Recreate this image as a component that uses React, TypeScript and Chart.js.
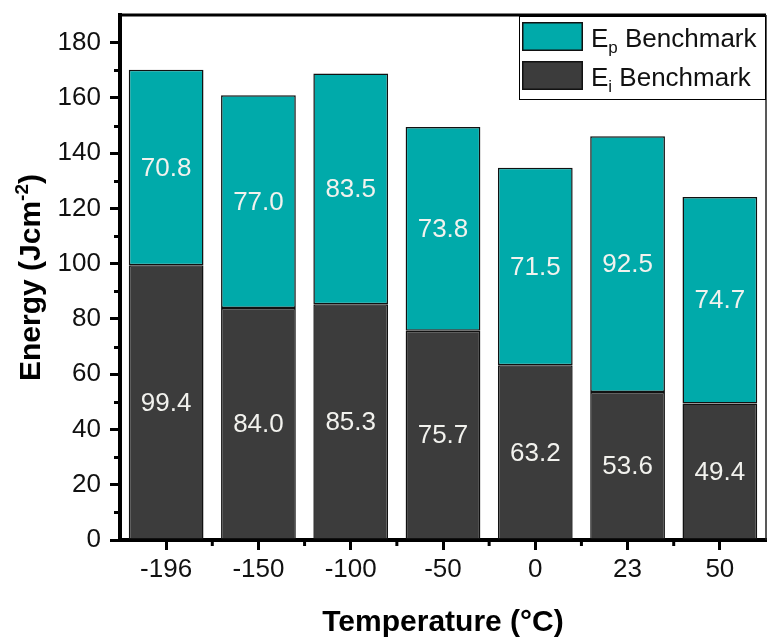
import React, { useEffect, useRef } from 'react';
import { Chart, registerables } from 'chart.js';

Chart.register(...registerables);

// Test temperatures (°C) and the two stacked energy components (J/cm²)
const temperatures = ['-196', '-150', '-100', '-50', '0', '23', '50'];
const eiValues = [99.4, 84.0, 85.3, 75.7, 63.2, 53.6, 49.4];
const epValues = [70.8, 77.0, 83.5, 73.8, 71.5, 92.5, 74.7];

// Y axis ticks: labelled majors and unlabelled minors
const yMajorTicks = [0, 20, 40, 60, 80, 100, 120, 140, 160, 180];
const yMinorTicks = [10, 30, 50, 70, 90, 110, 130, 150, 170];
const yAxisMax = 190;

const TEAL = '#00AAAA';
const DARK = '#3C3C3C';
const FONT = '"Liberation Sans", Arial, Helvetica, sans-serif';

const decorations = {
  id: 'decorations',
  afterDatasetsDraw(chart: any) {
    const ctx = chart.ctx;
    ctx.save();
    ctx.font = `26px ${FONT}`;
    ctx.fillStyle = '#F2F2EE';
    ctx.textAlign = 'center';
    ctx.textBaseline = 'middle';
    chart.data.datasets.forEach((ds: any, di: number) => {
      const meta = chart.getDatasetMeta(di);
      meta.data.forEach((el: any, i: number) => {
        const v = ds.data[i] as number;
        ctx.fillText(v.toFixed(1), el.x, (el.y + el.base) / 2 + 1);
      });
    });
    ctx.restore();
  },
  afterDraw(chart: any) {
    const ctx = chart.ctx;
    const area = chart.chartArea;
    const xs = chart.scales.x;
    const ys = chart.scales.y;
    ctx.save();

    // top and right frame lines
    ctx.strokeStyle = '#000';
    ctx.lineWidth = 3;
    ctx.beginPath();
    ctx.moveTo(area.left - 2, area.top);
    ctx.lineTo(area.right, area.top);
    ctx.stroke();
    ctx.lineWidth = 1.5;
    ctx.strokeStyle = '#222';
    ctx.beginPath();
    ctx.moveTo(area.right, area.top);
    ctx.lineTo(area.right, area.bottom);
    ctx.stroke();

    // minor ticks
    ctx.strokeStyle = '#000';
    ctx.lineWidth = 3;
    yMinorTicks.forEach((v) => {
      const py = Math.round(ys.getPixelForValue(v)) + 0.5;
      ctx.beginPath();
      ctx.moveTo(area.left - 6, py);
      ctx.lineTo(area.left, py);
      ctx.stroke();
    });
    for (let i = 1; i < temperatures.length; i++) {
      const px = (xs.getPixelForValue(i - 1) + xs.getPixelForValue(i)) / 2;
      ctx.beginPath();
      ctx.moveTo(px, area.bottom);
      ctx.lineTo(px, area.bottom + 6);
      ctx.stroke();
    }

    // legend
    const lx = 519;
    const ly = area.top + 1;
    const lw = area.right - lx;
    const lh = 84;
    ctx.fillStyle = '#fff';
    ctx.fillRect(lx, ly, lw, lh);
    ctx.strokeStyle = '#000';
    ctx.lineWidth = 1;
    ctx.strokeRect(lx + 0.5, ly + 0.5, lw - 1, lh - 1);
    const items = [
      { color: TEAL, sub: 'p', top: ly + 6 },
      { color: DARK, sub: 'i', top: ly + 45 },
    ];
    items.forEach((it) => {
      ctx.fillStyle = it.color;
      ctx.fillRect(522, it.top, 61, 29);
      ctx.lineWidth = 1.5;
      ctx.strokeStyle = '#111';
      ctx.strokeRect(522.75, it.top + 0.75, 59.5, 27.5);
      const base = it.top + 25;
      ctx.fillStyle = '#111';
      ctx.textAlign = 'left';
      ctx.textBaseline = 'alphabetic';
      ctx.font = `26px ${FONT}`;
      let x = 591;
      ctx.fillText('E', x, base);
      x += ctx.measureText('E').width;
      ctx.font = `17px ${FONT}`;
      ctx.fillText(it.sub, x, base + 6);
      x += ctx.measureText(it.sub).width;
      ctx.font = `26px ${FONT}`;
      ctx.fillText(' Benchmark', x, base);
    });

    // x axis title
    ctx.fillStyle = '#000';
    ctx.font = `bold 30px ${FONT}`;
    ctx.textAlign = 'center';
    ctx.textBaseline = 'alphabetic';
    ctx.fillText('Temperature (°C)', (area.left + area.right) / 2, 631);

    // y axis title with superscript
    const main = 'Energy (Jcm';
    const sup = '-2';
    const close = ')';
    ctx.font = `bold 30px ${FONT}`;
    const wMain = ctx.measureText(main).width;
    const wClose = ctx.measureText(close).width;
    ctx.font = `bold 19px ${FONT}`;
    const wSup = ctx.measureText(sup).width;
    const total = wMain + wSup + wClose;
    ctx.translate(40, (area.top + area.bottom) / 2);
    ctx.rotate(-Math.PI / 2);
    ctx.textAlign = 'left';
    let tx = -total / 2;
    ctx.font = `bold 30px ${FONT}`;
    ctx.fillText(main, tx, 0);
    tx += wMain;
    ctx.font = `bold 19px ${FONT}`;
    ctx.fillText(sup, tx, -12);
    tx += wSup;
    ctx.font = `bold 30px ${FONT}`;
    ctx.fillText(close, tx, 0);

    ctx.restore();
  },
};

export default function App() {
  const canvasRef = useRef<HTMLCanvasElement | null>(null);

  useEffect(() => {
    const canvas = canvasRef.current;
    if (!canvas) return;
    const chart = new Chart(canvas, {
      type: 'bar',
      data: {
        labels: temperatures,
        datasets: [
          {
            label: 'Ei Benchmark',
            data: eiValues,
            backgroundColor: DARK,
            borderColor: '#111',
            borderWidth: 1.5,
            borderSkipped: false,
          },
          {
            label: 'Ep Benchmark',
            data: epValues,
            backgroundColor: TEAL,
            borderColor: '#111',
            borderWidth: 1.5,
            borderSkipped: false,
          },
        ],
      },
      options: {
        responsive: false,
        animation: false,
        devicePixelRatio: 1,
        layout: { padding: { top: 15, right: 3, left: 0, bottom: 0 } },
        datasets: {
          bar: { barPercentage: 0.81, categoryPercentage: 1 },
        },
        plugins: {
          legend: { display: false },
          tooltip: { enabled: false },
          title: { display: false },
        },
        scales: {
          x: {
            stacked: true,
            afterFit(scale: any) {
              scale.height = 99;
              scale.paddingLeft = 0;
              scale.paddingRight = 0;
            },
            grid: {
              offset: false,
              drawOnChartArea: false,
              drawTicks: true,
              tickLength: 10,
              tickWidth: 3,
              tickColor: '#000',
            },
            border: { display: true, color: '#000', width: 4 },
            ticks: {
              color: '#111',
              font: { family: FONT, size: 26 },
              padding: 4,
              maxRotation: 0,
            },
          },
          y: {
            stacked: true,
            min: 0,
            max: yAxisMax,
            afterFit(scale: any) {
              scale.width = 120;
              scale.paddingTop = 0;
              scale.paddingBottom = 0;
            },
            afterBuildTicks(scale: any) {
              scale.ticks = yMajorTicks.map((v) => ({ value: v }));
            },
            grid: {
              drawOnChartArea: false,
              drawTicks: true,
              tickLength: 10,
              tickWidth: 3,
              tickColor: '#000',
            },
            border: { display: true, color: '#000', width: 4 },
            ticks: {
              color: '#111',
              font: { family: FONT, size: 26 },
              padding: 9,
            },
          },
        },
      },
      plugins: [decorations],
    });
    return () => chart.destroy();
  }, []);

  return (
    <div style={{ position: 'fixed', left: 0, top: 0, width: 769, height: 639, background: '#fff' }}>
      <canvas ref={canvasRef} width={769} height={639} style={{ width: 769, height: 639, display: 'block' }} />
    </div>
  );
}
